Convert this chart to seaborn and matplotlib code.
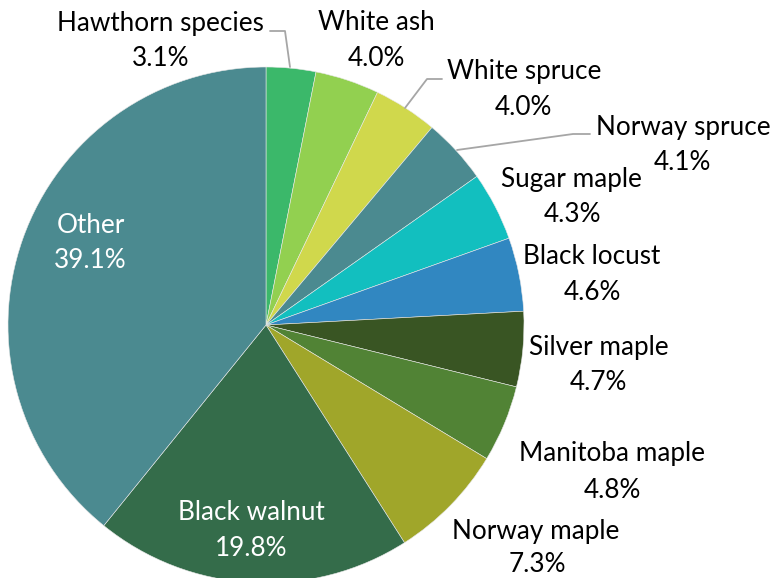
import matplotlib.pyplot as plt
import seaborn as sns

species = ["Hawthorn species", "White ash", "White spruce", "Norway spruce",
           "Sugar maple", "Black locust", "Silver maple", "Manitoba maple",
           "Norway maple", "Black walnut", "Other"]
shares = [3.1, 4.0, 4.0, 4.1, 4.3, 4.6, 4.7, 4.8, 7.3, 19.8, 39.1]
colors = ["#3bb86a", "#92d050", "#d0d84c", "#4b8a90", "#12bfbf", "#3187c1",
          "#395523", "#518335", "#a0a62a", "#346c4a", "#4b8a90"]

sns.set_theme(style="white")
plt.rcParams['font.family'] = ['Lato', 'DejaVu Sans']

W, H = 772, 578
cx, cy, R = 266, 325, 258

fig = plt.figure(figsize=(W / 100, H / 100), dpi=100)
ax = fig.add_axes([0, 0, 1, 1])
ax.pie(shares, colors=colors, startangle=90, counterclock=False,
       radius=1, center=(0, 0),
       wedgeprops=dict(edgecolor="#e8e8e8", linewidth=0.4))
ax.set_xlim(-cx / R, (W - cx) / R)
ax.set_ylim(-(H - cy) / R, cy / R)
ax.set_aspect("equal")
ax.axis("off")

# label centres in pixels (name line, percentage line)
label_pos = [((160, 23), (161, 59)), ((376, 23), (376, 59)),
             ((524, 72), (523, 107)), ((683, 127), (682, 163)),
             ((571, 180), (572, 215)), ((592, 257), (592, 293)),
             ((599, 347), (598, 382)), ((612, 453), (612, 490)),
             ((536, 531), (537, 565)), ((251, 513), (251, 548)),
             ((91, 225), (90, 260))]
inside = {"Black walnut", "Other"}


def to_ax(p):
    return p[0] / W, 1 - p[1] / H


for name, val, (p1, p2) in zip(species, shares, label_pos):
    c = "white" if name in inside else "black"
    ax.text(*to_ax(p1), name, transform=ax.transAxes, ha="center",
            va="center", fontsize=18.8, color=c)
    ax.text(*to_ax(p2), f"{val:.1f}%", transform=ax.transAxes, ha="center",
            va="center", fontsize=18.8, color=c)

# leader lines
leaders = [[(270, 31), (285, 31), (290, 67)],
           [(442, 79), (427, 79), (405, 108)],
           [(590, 134), (573, 134), (457, 150)]]
for pts in leaders:
    xs, ys = zip(*[to_ax(p) for p in pts])
    ax.plot(xs, ys, color="#a6a6a6", lw=1.3, transform=ax.transAxes)

plt.savefig("out.png", dpi=100)
